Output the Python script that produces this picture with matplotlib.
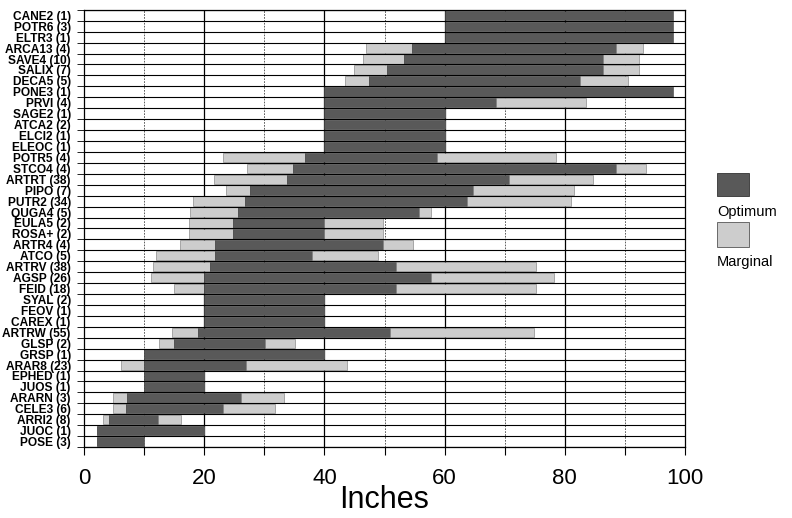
import matplotlib.pyplot as plt
from matplotlib.patches import Rectangle
from matplotlib import font_manager

# species (top to bottom) and their ranges in inches
labels = ['CANE2 (1)', 'POTR6 (3)', 'ELTR3 (1)', 'ARCA13 (4)', 'SAVE4 (10)',
          'SALIX (7)', 'DECA5 (5)', 'PONE3 (1)', 'PRVI (4)', 'SAGE2 (1)',
          'ATCA2 (2)', 'ELCI2 (1)', 'ELEOC (1)', 'POTR5 (4)', 'STCO4 (4)',
          'ARTRT (38)', 'PIPO (7)', 'PUTR2 (34)', 'QUGA4 (5)', 'EULA5 (2)',
          'ROSA+ (2)', 'ARTR4 (4)', 'ATCO (5)', 'ARTRV (38)', 'AGSP (26)',
          'FEID (18)', 'SYAL (2)', 'FEOV (1)', 'CAREX (1)', 'ARTRW (55)',
          'GLSP (2)', 'GRSP (1)', 'ARAR8 (23)', 'EPHED (1)', 'JUOS (1)',
          'ARARN (3)', 'CELE3 (6)', 'ARRI2 (8)', 'JUOC (1)', 'POSE (3)']

# lower marginal start, optimum start, optimum end, upper marginal end
marg_lo = [60, 60, 60, 47, 46.5, 45, 43.5, 40, 40, 40,
           40, 40, 40, 23.2, 27.2, 21.7, 23.7, 18.2, 17.7, 17.4,
           17.4, 16, 12, 11.5, 11.1, 15, 20, 20, 20, 14.6,
           12.5, 10, 6.1, 10, 10, 4.8, 4.8, 3.2, 2.2, 2.2]
opt_lo = [60, 60, 60, 54.5, 53.3, 50.4, 47.5, 40, 40, 40,
          40, 40, 40, 36.8, 34.8, 33.7, 27.6, 26.8, 25.7, 24.8,
          24.8, 21.8, 21.8, 20.9, 20, 20, 20, 20, 20, 19,
          15, 10, 10, 10, 10, 7.1, 7, 4.2, 2.2, 2.2]
opt_hi = [98, 98, 98, 88.5, 86.4, 86.4, 82.5, 98, 68.5, 60,
          60, 60, 60, 58.7, 88.5, 70.7, 64.7, 63.8, 55.8, 40,
          40, 49.8, 38, 51.9, 57.8, 51.9, 40, 40, 40, 50.9,
          30.1, 40, 27, 20, 20, 26.1, 23.1, 12.3, 20, 10]
marg_hi = [98, 98, 98, 93, 92.3, 92.3, 90.5, 98, 83.5, 60,
           60, 60, 60, 78.5, 93.5, 84.6, 81.5, 81.1, 57.7, 49.7,
           49.7, 54.8, 48.9, 75.2, 78.2, 75.2, 40, 40, 40, 74.9,
           35.1, 40, 43.7, 20, 20, 33.2, 31.7, 16.1, 20, 10]

opt_color = '#595959'
marg_color = '#cdcdcd'

names = {f.name for f in font_manager.fontManager.ttflist}
narrow = 'Liberation Sans Narrow' if 'Liberation Sans Narrow' in names else 'Liberation Sans'
plt.rcParams['font.family'] = [narrow, 'DejaVu Sans']

fig = plt.figure(figsize=(7.92, 5.18), dpi=100)
ax = fig.add_axes([0.106, 0.137, 0.759, 0.844])

n = len(labels)
y = [n - 1 - i for i in range(n)]
h = 0.86
for i in range(n):
    ax.barh(y[i], opt_lo[i] - marg_lo[i], left=marg_lo[i], height=h,
            color=marg_color, edgecolor='#777777', linewidth=0.4, zorder=3)
    ax.barh(y[i], opt_hi[i] - opt_lo[i], left=opt_lo[i], height=h,
            color=opt_color, edgecolor='#333333', linewidth=0.4, zorder=3)
    ax.barh(y[i], marg_hi[i] - opt_hi[i], left=opt_hi[i], height=h,
            color=marg_color, edgecolor='#777777', linewidth=0.4, zorder=3)

ax.set_xlim(0, 100)
ax.set_ylim(-0.5, n - 0.5)

# grid: solid at 20s, dashed at odd tens, row separators
for xv in [20, 40, 60, 80]:
    ax.axvline(xv, color='black', linewidth=0.9, zorder=1)
for xv in [10, 30, 50, 70, 90]:
    ax.axvline(xv, color='#444444', linewidth=0.6, linestyle=(0, (2, 1.5)), zorder=1)
for k in range(n + 1):
    ax.axhline(k - 0.5, color='black', linewidth=0.8, zorder=4)

ax.set_xticks(range(0, 101, 10))
ax.set_xticklabels(['0', '', '20', '', '40', '', '60', '', '80', '', '100'])
ax.tick_params(axis='x', length=6, pad=9, labelsize=16, direction='out')
ax.set_yticks(y)
ax.set_yticklabels(labels, fontsize=8.6, fontweight='bold')
ax.set_yticks([k - 0.5 for k in range(n + 1)], minor=True)
ax.tick_params(axis='y', which='major', length=0, pad=9.5)
ax.tick_params(axis='y', which='minor', length=5)
ax.set_xlabel('Inches', fontsize=22, labelpad=-3)

for s in ax.spines.values():
    s.set_linewidth(0.9)

# legend drawn by hand: swatch above its text
fig.add_artist(Rectangle((717 / 792, 1 - 196 / 518), 32 / 792, 23 / 518,
                         transform=fig.transFigure, facecolor=opt_color,
                         edgecolor='#333333', linewidth=0.6))
fig.text(717 / 792, 1 - 212 / 518, 'Optimum', fontsize=10.5, va='center', ha='left',
         family=['Liberation Sans', 'DejaVu Sans'])
fig.add_artist(Rectangle((717 / 792, 1 - 247 / 518), 32 / 792, 25 / 518,
                         transform=fig.transFigure, facecolor=marg_color,
                         edgecolor='#555555', linewidth=0.6))
fig.text(717 / 792, 1 - 262 / 518, 'Marginal', fontsize=10.5, va='center', ha='left',
         family=['Liberation Sans', 'DejaVu Sans'])

fig.savefig('out.png', dpi=100)
